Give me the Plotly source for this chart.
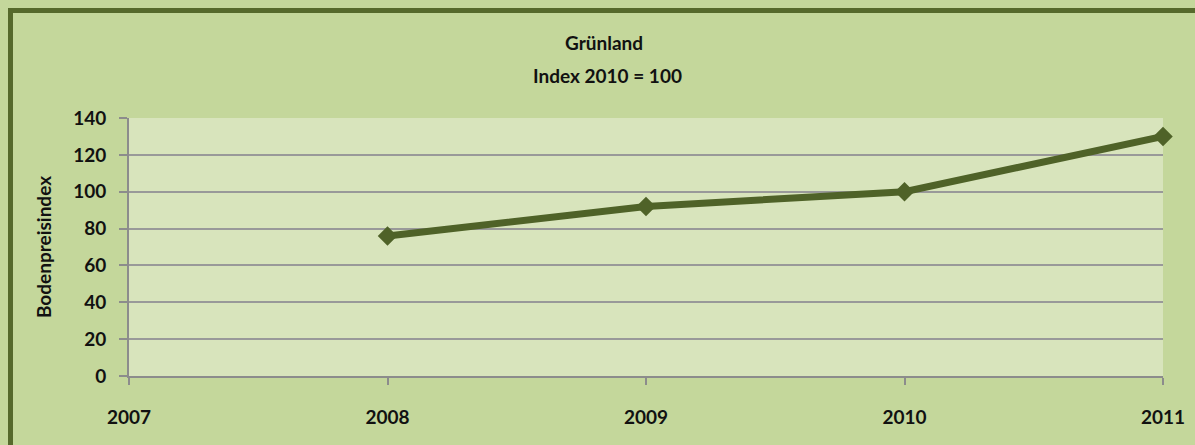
import plotly.graph_objects as go

# Bodenpreisindex Grünland (Index 2010 = 100)
years = [2008, 2009, 2010, 2011]
index_values = [76, 92, 100, 130]
y_ticks = [0, 20, 40, 60, 80, 100, 120, 140]
x_ticks = [2007, 2008, 2009, 2010, 2011]

W, H = 1195, 445
ML, MR, MT, MB = 129, 32, 118, 69
PW, PH = W - ML - MR, H - MT - MB

def px_x(px):
    return (px - ML) / PW

def px_y(py):
    return (H - MB - py) / PH

FONT = "Lato"
FS = 19
TXT = "#111111"
LINE_COLOR = "#4f6228"
FRAME_COLOR = "#56692c"

fig = go.Figure()
fig.add_trace(go.Scatter(
    x=years, y=index_values, mode="lines+markers",
    line=dict(color=LINE_COLOR, width=7),
    marker=dict(symbol="diamond", size=15, color=LINE_COLOR),
    cliponaxis=False, showlegend=False, hoverinfo="x+y",
))

bold = dict(family=FONT, size=FS, color=TXT, weight="bold")

fig.update_layout(
    width=W, height=H,
    margin=dict(l=ML, r=MR, t=MT, b=MB, autoexpand=False),
    paper_bgcolor="#c4d79b",
    plot_bgcolor="#d8e4bc",
    font=dict(family=FONT, size=FS, color=TXT),
    xaxis=dict(
        range=[2007, 2011], tickvals=x_ticks, ticktext=[str(v) for v in x_ticks],
        showgrid=False, zeroline=False, automargin=False,
        showline=True, linecolor="#8c8c8c", linewidth=2,
        ticks="outside", ticklen=7, tickwidth=2, tickcolor="#8c8c8c",
        ticklabelstandoff=16,
        tickfont=bold,
    ),
    yaxis=dict(
        range=[0, 140], tickvals=y_ticks,
        showgrid=True, gridcolor="#999999", gridwidth=1.5,
        zeroline=False, automargin=False,
        showline=True, linecolor="#8c8c8c", linewidth=2,
        ticks="outside", ticklen=8, tickwidth=2, tickcolor="#8c8c8c",
        ticklabelstandoff=9,
        tickfont=bold,
        title=dict(text="Bodenpreisindex", standoff=16, font=bold),
    ),
    shapes=[
        # outer frame: top and left edges
        dict(type="rect", xref="paper", yref="paper", layer="below",
             x0=px_x(8), x1=px_x(W + 5), y0=px_y(13), y1=px_y(8),
             fillcolor=FRAME_COLOR, line=dict(width=0)),
        dict(type="rect", xref="paper", yref="paper", layer="below",
             x0=px_x(8), x1=px_x(13), y0=px_y(H + 5), y1=px_y(8),
             fillcolor=FRAME_COLOR, line=dict(width=0)),
    ],
    annotations=[
        dict(text="<b>Grünland</b>", xref="paper", yref="paper",
             x=px_x(604), y=px_y(43), yanchor="middle", showarrow=False,
             font=dict(family=FONT, size=FS, color=TXT)),
        dict(text="<b>Index 2010 = 100</b>", xref="paper", yref="paper",
             x=px_x(607), y=px_y(76), yanchor="middle", showarrow=False,
             font=dict(family=FONT, size=FS, color=TXT)),
    ],
)

fig.write_html("out.html")
